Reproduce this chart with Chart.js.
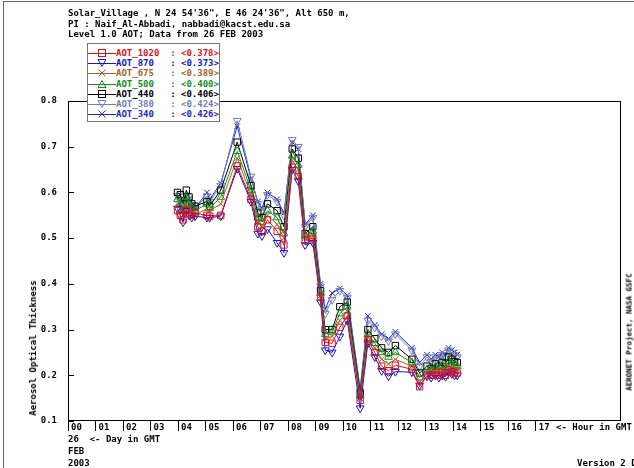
<!DOCTYPE html>
<html>
<head>
<meta charset="utf-8">
<script src="https://cdn.jsdelivr.net/npm/chart.js@4.4.0/dist/chart.umd.min.js"></script>
<style>
  body { margin: 0; background: #fff; }
  #wrap { position: relative; width: 634px; height: 468px; overflow: hidden;
          font-family: "DejaVu Sans Mono", monospace; font-weight: bold; font-size: 9px; }
  #wrap canvas { position: absolute; left: 0; top: 0; }
  .txt { position: absolute; white-space: pre; color: #000; }
  .vtxt { position: absolute; white-space: pre; color: #000; transform: translate(-50%, -50%) rotate(-90deg); }
  #frame { position: absolute; left: 3px; top: 1px; width: 700px; height: 500px; border: 1px solid #666; }
  #legend { position: absolute; left: 87px; top: 43px; width: 131px; height: 77px;
            border: 1px solid #777; background: #fff; }
  #legend .row { position: absolute; left: 0; height: 10px; white-space: pre; line-height: 10px; }
  #legend svg { position: absolute; left: 0; top: 0; }
  #legend span { position: absolute; left: 28px; top: 0; }
</style>
</head>
<body>
<div id="wrap">
  <div id="frame"></div>
  <canvas id="aotChart" width="634" height="468"></canvas>
  <div class="txt" style="left:68px; top:8px; line-height:10.5px;">Solar_Village , N 24 54'36", E 46 24'36", Alt 650 m,
PI : Naif_Al-Abbadi, nabbadi@kacst.edu.sa
Level 1.0 AOT; Data from 26 FEB 2003</div>
  <div id="legend"></div>
  <div class="vtxt" style="left:33px; top:348px;">Aerosol Optical Thickness</div>
  <div class="vtxt" style="left:629px; top:332px; font-size:7.5px;">AERONET Project, NASA GSFC</div>
  <div class="txt" style="left:556px; top:421px; line-height:12px;">&lt;- Hour in GMT</div>
  <div class="txt" style="left:68px; top:433px; line-height:12px;">26  &lt;- Day in GMT
FEB
2003</div>
  <div class="txt" style="left:577px; top:457px; line-height:12px;">Version 2 DS</div>
</div>
<script>
/* ======================================
        DATA
========================================*/
const hours = [3.98, 4.08, 4.18, 4.30, 4.40, 4.50, 4.62, 5.05, 5.15, 5.55,
  6.15, 6.65, 6.90, 7.05, 7.25, 7.60, 7.85, 8.15, 8.37, 8.62,
  8.90, 9.18, 9.35, 9.60, 9.88, 10.15, 10.62, 10.90, 11.15, 11.40,
  11.65, 11.90, 12.50, 12.78, 13.05, 13.20, 13.35, 13.48, 13.60, 13.72,
  13.83, 13.95, 14.05, 14.15];

const aot1020 = [0.560, 0.550, 0.540, 0.560, 0.555, 0.550, 0.555, 0.550, 0.548, 0.550,
  0.658, 0.585, 0.525, 0.515, 0.540, 0.515, 0.485, 0.655, 0.635, 0.495,
  0.500, 0.370, 0.272, 0.270, 0.305, 0.330, 0.145, 0.278, 0.250, 0.220,
  0.210, 0.222, 0.213, 0.175, 0.200, 0.200, 0.205, 0.200, 0.205, 0.200,
  0.212, 0.208, 0.205, 0.205];
const aot870 = [0.565, 0.550, 0.535, 0.560, 0.550, 0.545, 0.548, 0.545, 0.545, 0.548,
  0.652, 0.580, 0.510, 0.505, 0.520, 0.490, 0.468, 0.650, 0.625, 0.485,
  0.490, 0.360, 0.255, 0.250, 0.285, 0.320, 0.128, 0.270, 0.240, 0.210,
  0.198, 0.208, 0.207, 0.178, 0.198, 0.195, 0.200, 0.195, 0.200, 0.197,
  0.207, 0.203, 0.200, 0.200];
const aot675 = [0.575, 0.565, 0.550, 0.575, 0.565, 0.555, 0.550, 0.565, 0.560, 0.575,
  0.675, 0.595, 0.535, 0.525, 0.550, 0.530, 0.500, 0.670, 0.650, 0.500,
  0.505, 0.375, 0.280, 0.285, 0.320, 0.340, 0.150, 0.285, 0.260, 0.235,
  0.225, 0.235, 0.220, 0.185, 0.205, 0.205, 0.210, 0.205, 0.212, 0.208,
  0.220, 0.215, 0.213, 0.212];
const aot500 = [0.585, 0.575, 0.560, 0.590, 0.575, 0.565, 0.560, 0.575, 0.565, 0.590,
  0.690, 0.605, 0.545, 0.535, 0.560, 0.545, 0.510, 0.680, 0.660, 0.505,
  0.515, 0.380, 0.290, 0.295, 0.335, 0.350, 0.155, 0.290, 0.270, 0.250,
  0.240, 0.250, 0.228, 0.195, 0.213, 0.210, 0.218, 0.213, 0.220, 0.215,
  0.230, 0.225, 0.222, 0.220];
const aot440 = [0.600, 0.595, 0.575, 0.605, 0.590, 0.575, 0.570, 0.580, 0.570, 0.605,
  0.710, 0.615, 0.555, 0.545, 0.575, 0.560, 0.525, 0.695, 0.675, 0.510,
  0.525, 0.385, 0.300, 0.300, 0.350, 0.360, 0.160, 0.300, 0.280, 0.260,
  0.250, 0.265, 0.235, 0.205, 0.220, 0.215, 0.225, 0.220, 0.228, 0.225,
  0.240, 0.235, 0.230, 0.228];
const aot380 = [0.592, 0.585, 0.565, 0.592, 0.585, 0.572, 0.565, 0.592, 0.580, 0.615,
  0.757, 0.635, 0.575, 0.560, 0.595, 0.580, 0.550, 0.715, 0.700, 0.525,
  0.545, 0.395, 0.335, 0.365, 0.385, 0.370, 0.165, 0.320, 0.305, 0.285,
  0.275, 0.290, 0.255, 0.220, 0.240, 0.230, 0.240, 0.235, 0.245, 0.240,
  0.255, 0.250, 0.245, 0.240];
const aot340 = [0.590, 0.580, 0.560, 0.590, 0.585, 0.570, 0.565, 0.600, 0.585, 0.620,
  0.745, 0.630, 0.580, 0.565, 0.600, 0.585, 0.555, 0.710, 0.695, 0.530,
  0.550, 0.400, 0.345, 0.380, 0.390, 0.375, 0.170, 0.330, 0.310, 0.290,
  0.280, 0.295, 0.260, 0.228, 0.245, 0.235, 0.245, 0.240, 0.250, 0.245,
  0.260, 0.255, 0.250, 0.245];

const seriesNames = ['AOT_1020', 'AOT_870', 'AOT_675', 'AOT_500', 'AOT_440', 'AOT_380', 'AOT_340'];
const seriesMeans = [0.378, 0.373, 0.389, 0.400, 0.406, 0.424, 0.426];
const seriesValues = [aot1020, aot870, aot675, aot500, aot440, aot380, aot340];
const hourTicks = [0, 1, 2, 3, 4, 5, 6, 7, 8, 9, 10, 11, 12, 13, 14, 15, 16, 17];
const yTicks = [0.1, 0.2, 0.3, 0.4, 0.5, 0.6, 0.7, 0.8];

/* ======================================
        STYLES
========================================*/
const colors = ['#e01018', '#1414d0', '#a0642a', '#10901a', '#000000', '#7080b0', '#2028c8'];
const markers = ['rect', 'triangle', 'crossRot', 'triangle', 'rect', 'triangle', 'crossRot'];
const rotations = [0, 180, 0, 0, 0, 180, 0];

/* ======================================
        LEGEND (html)
========================================*/
const legendBox = document.getElementById('legend');
function markerSvg(i) {
  const c = colors[i];
  let m = '';
  if (markers[i] === 'rect') m = `<rect x="10.5" y="1.5" width="7" height="7" fill="none" stroke="${c}"/>`;
  else if (markers[i] === 'crossRot') m = `<path d="M10.5 1.5L17.5 8.5M17.5 1.5L10.5 8.5" stroke="${c}"/>`;
  else if (rotations[i] === 180) m = `<polygon points="10,1.5 18,1.5 14,8.5" fill="none" stroke="${c}"/>`;
  else m = `<polygon points="10,8.5 18,8.5 14,1.5" fill="none" stroke="${c}"/>`;
  return `<svg width="28" height="10"><line x1="0" y1="5.5" x2="28" y2="5.5" stroke="${c}"/>${m}</svg>`;
}
seriesNames.forEach((name, i) => {
  const row = document.createElement('div');
  row.className = 'row';
  row.style.top = (4 + i * 10.2) + 'px';
  row.style.color = colors[i];
  const label = name.padEnd(10, ' ') + ': <' + seriesMeans[i].toFixed(3) + '>';
  row.innerHTML = markerSvg(i) + '<span></span>';
  row.querySelector('span').textContent = label;
  legendBox.appendChild(row);
});

/* ======================================
        CHART
========================================*/
const plotFrame = {
  id: 'plotFrame',
  afterDraw(chart) {
    const {ctx, chartArea: a, scales: {y}} = chart;
    ctx.save();
    ctx.strokeStyle = '#000';
    ctx.lineWidth = 1;
    ctx.strokeRect(a.left + 0.5, a.top + 0.5, a.right - a.left - 1, a.bottom - a.top - 1);
    y.ticks.forEach(t => {
      const py = Math.round(y.getPixelForValue(t.value)) + 0.5;
      ctx.beginPath();
      ctx.moveTo(a.left, py);
      ctx.lineTo(a.left + 6, py);
      ctx.stroke();
    });
    ctx.restore();
  }
};

Chart.defaults.font.family = 'DejaVu Sans Mono';
Chart.defaults.font.weight = 'bold';
Chart.defaults.font.size = 9;
Chart.defaults.color = '#000';

const datasets = seriesNames.map((name, i) => ({
  label: name,
  data: hours.map((h, k) => ({x: h, y: seriesValues[i][k]})),
  borderColor: colors[i],
  borderWidth: 1,
  pointStyle: markers[i],
  pointRotation: rotations[i],
  pointRadius: markers[i] === 'crossRot' ? 4 : 4.5,
  pointBorderColor: colors[i],
  pointBackgroundColor: 'rgba(0,0,0,0)',
  pointBorderWidth: 1,
  tension: 0
}));

new Chart(document.getElementById('aotChart'), {
  type: 'line',
  data: {datasets},
  options: {
    responsive: false,
    animation: false,
    events: [],
    layout: {padding: {left: 0, top: 101, right: 13, bottom: 0}},
    plugins: {legend: {display: false}, title: {display: false}, tooltip: {enabled: false}},
    scales: {
      x: {
        type: 'linear',
        min: 0,
        max: 20.1,
        afterFit: s => { s.height = 47; },
        afterBuildTicks: s => { s.ticks = hourTicks.map(v => ({value: v})); },
        border: {display: false},
        grid: {display: true, drawOnChartArea: false, drawTicks: true, tickLength: 10, tickColor: '#000'},
        ticks: {
          autoSkip: false, maxRotation: 0, align: 'start', labelOffset: 3, padding: -9,
          callback: v => String(v).padStart(2, '0')
        }
      },
      y: {
        min: 0.1,
        max: 0.8,
        afterFit: s => { s.width = 68; },
        afterBuildTicks: s => { s.ticks = yTicks.map(v => ({value: v})); },
        border: {display: false},
        grid: {display: false},
        ticks: {padding: 3, callback: v => v.toFixed(1)}
      }
    }
  },
  plugins: [plotFrame]
});
</script>
</body>
</html>
